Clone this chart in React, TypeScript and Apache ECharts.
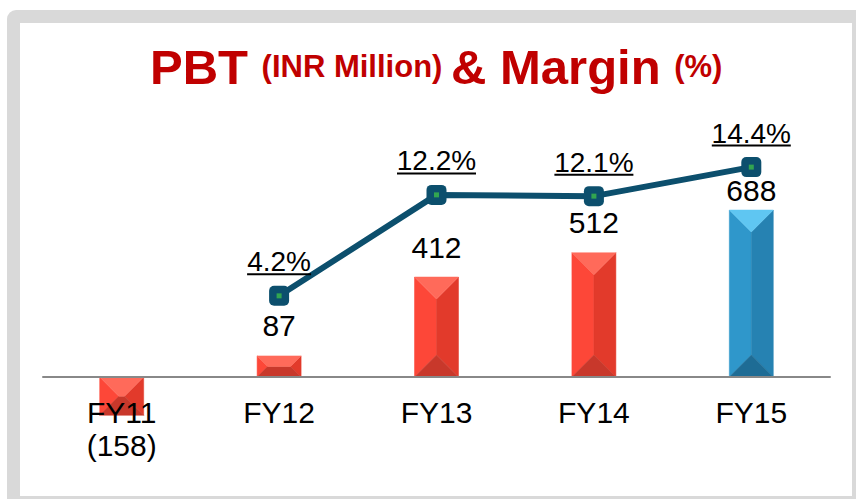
import React, { useEffect, useRef } from "react";
import * as echarts from "echarts";

const categories = ["FY11", "FY12", "FY13", "FY14", "FY15"];
const pbtValues = [-158, 87, 412, 512, 688];
const marginValues: (number | null)[] = [null, 4.2, 12.2, 12.1, 14.4];

const FONT = "'Liberation Sans', Arial, sans-serif";
const RED = { top: "#ff6a5a", left: "#fd4738", right: "#e23a2b", bottom: "#c8382b" };
const BLUE = { top: "#5fc6f2", left: "#2f97cb", right: "#2682b2", bottom: "#1e6c95" };
const BAR_W = 44;
const PCT_SIZE = 28;

function measure(text: string, font: string): number {
  const ctx = document.createElement("canvas").getContext("2d");
  if (!ctx) return text.length * 15;
  ctx.font = font;
  return ctx.measureText(text).width;
}

export default function App() {
  const ref = useRef<HTMLDivElement>(null);
  useEffect(() => {
    if (!ref.current) return;
    const chart = echarts.init(ref.current, null, { renderer: "svg" });
    const last = pbtValues.length - 1;
    const pctText = (v: number) => `${v}%`;
    const pctRich: any = {
      t: { fontFamily: FONT, fontSize: PCT_SIZE, color: "#000000", lineHeight: 22 },
    };
    marginValues.forEach((v, i) => {
      if (v == null) return;
      pctRich["u" + i] = {
        width: Math.round(measure(pctText(v), `${PCT_SIZE}px ${FONT}`)),
        height: 2,
        lineHeight: 3,
        backgroundColor: "#000000",
      };
    });
    const option: any = {
      animation: false,
      textStyle: { fontFamily: FONT },
      graphic: [
        { type: "rect", z: -10, shape: { x: 7, y: 10, width: 870, height: 510, r: 9 }, style: { fill: "#d9d9d9" } },
        { type: "rect", z: -9, shape: { x: 20, y: 23, width: 832, height: 473 }, style: { fill: "#ffffff" } },
      ],
      title: {
        left: 150,
        top: 42,
        padding: 0,
        text: "{a|PBT }{b|(INR Million) }{a|& Margin }{b|(%)}",
        textStyle: {
          rich: {
            a: { fontFamily: FONT, fontSize: 49, fontWeight: "bold", color: "#c00000", lineHeight: 49 },
            b: { fontFamily: FONT, fontSize: 31, fontWeight: "bold", color: "#c00000", lineHeight: 38 },
          },
        },
      },
      grid: { left: 43, width: 787, top: 134.3, height: 315.5, outerBoundsMode: "none", containLabel: false },
      xAxis: {
        type: "category",
        data: categories,
        z: 10,
        axisLine: { show: true, lineStyle: { color: "#888888", width: 2 } },
        axisTick: { show: false },
        axisLabel: {
          fontFamily: FONT,
          fontSize: 30,
          lineHeight: 33,
          color: "#000000",
          margin: -54,
          interval: 0,
          formatter: (val: string, idx: number) => {
            const v = pbtValues[idx];
            return v < 0 ? `${val}\n(${-v})` : val;
          },
        },
      },
      yAxis: [
        { type: "value", min: -300, max: 1000, show: false, splitLine: { show: false } },
        { type: "value", min: -8, max: 17, show: false, splitLine: { show: false } },
      ],
      series: [
        {
          type: "custom",
          z: 2,
          data: pbtValues.map((v, i) => [i, v]),
          encode: { x: 0, y: 1 },
          renderItem: (params: any, api: any) => {
            const idx = api.value(0);
            const v = api.value(1);
            const base = api.coord([idx, 0]);
            const tip = api.coord([idx, v]);
            const x0 = base[0] - BAR_W / 2;
            const x1 = base[0] + BAR_W / 2;
            const yT = Math.min(base[1], tip[1]);
            const yB = Math.max(base[1], tip[1]);
            const h = yB - yT;
            const d = Math.min(BAR_W / 2, h / 2);
            const pal = params.dataIndex === last ? BLUE : RED;
            const poly = (pts: number[][], fill: string) => ({
              type: "polygon",
              shape: { points: pts },
              style: { fill, stroke: fill, lineWidth: 0.5 },
            });
            return {
              type: "group",
              children: [
                poly([[x0, yT], [x0 + d, yT + d], [x0 + d, yB - d], [x0, yB]], pal.left),
                poly([[x1, yT], [x1, yB], [x1 - d, yB - d], [x1 - d, yT + d]], pal.right),
                poly([[x0, yB], [x1, yB], [x1 - d, yB - d], [x0 + d, yB - d]], pal.bottom),
                poly([[x0, yT], [x1, yT], [x1 - d, yT + d], [x0 + d, yT + d]], pal.top),
              ],
            };
          },
        },
        {
          type: "bar",
          barWidth: BAR_W,
          z: 3,
          data: pbtValues.map((v, i) => ({
            value: v,
            label: { distance: i === last ? 5 : 15 },
          })),
          itemStyle: { color: "rgba(0,0,0,0)" },
          label: {
            show: true,
            position: "top",
            fontFamily: FONT,
            fontSize: 30,
            color: "#000000",
            formatter: (p: any) => (p.value < 0 ? "" : String(p.value)),
          },
        },
        {
          type: "line",
          yAxisIndex: 1,
          z: 4,
          data: marginValues,
          symbol: "roundRect",
          symbolSize: 20,
          lineStyle: { color: "#0c4f6d", width: 6 },
          itemStyle: { color: "#0c4f6d" },
          label: {
            show: true,
            position: "top",
            distance: 10,
            formatter: (p: any) => `{t|${pctText(p.value)}}\n{u${p.dataIndex}| }`,
            rich: pctRich,
          },
        },
        {
          type: "scatter",
          yAxisIndex: 1,
          z: 5,
          silent: true,
          data: marginValues,
          symbol: "rect",
          symbolSize: 5,
          itemStyle: { color: "#3cba48" },
        },
      ],
    };
    chart.setOption(option);
    return () => chart.dispose();
  }, []);
  return (
    <div
      ref={ref}
      style={{ position: "fixed", left: 0, top: 0, width: 856, height: 499, background: "#ffffff" }}
    />
  );
}
